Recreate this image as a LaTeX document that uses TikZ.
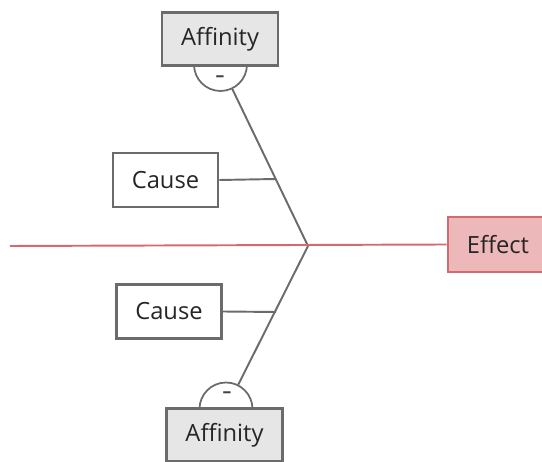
\documentclass[tikz,border=0pt]{standalone}
\usepackage{fontspec}
\setmainfont{Open Sans}
\definecolor{boxline}{HTML}{6B6B6B}
\definecolor{affill}{HTML}{E6E6E6}
\definecolor{efline}{HTML}{D46A70}
\definecolor{effill}{HTML}{EDB8BA}
\begin{document}
\begin{tikzpicture}[x=0.02cm,y=-0.02cm,
        box/.style={draw=boxline,line width=1.6pt,fill=white,inner sep=0pt,
            font=\fontsize{13.5}{15}\selectfont,text=black!85},
        affbox/.style={box,fill=affill,minimum width=2.32cm,minimum height=1.06cm},
        causebox/.style={box,minimum width=2.1cm,minimum height=1.08cm},
        effbox/.style={box,draw=efline,fill=effill,minimum width=2cm,minimum height=1.1cm},
        knob/.style={circle,draw=boxline,line width=1pt,fill=white,minimum size=1.06cm,inner sep=0pt},
        minus/.style={font=\fontsize{10}{10}\bfseries,text=black!75,inner sep=0pt},
        bone/.style={draw=boxline,line width=1.1pt}]
\useasboundingbox (0,0) rectangle (542,462);

\coordinate (spine) at (308,246);
\coordinate (tail) at (10,246);

\node[knob] (knobtop) at (220.5,64.5) {};
\node[knob] (knobbot) at (226,409) {};
\node[minus] (minustop) at (220,79) {–};
\node[minus] (minusbot) at (227,395) {–};

\node[affbox] (afftop) at (220,39) {Affinity};
\node[affbox] (affbot) at (224.5,435) {Affinity};

\node[causebox] (causetop) at (165.5,180) {Cause};
\node[causebox] (causebot) at (169,311.5) {Cause};
\node[effbox] (effect) at (498,244.5) {Effect};

\coordinate (jtop) at (276,179);
\coordinate (jbot) at (276,312);

\draw[bone] (spine) -- (knobtop);
\draw[bone] (spine) -- (knobbot);
\draw[bone] (causetop.east) -- (jtop);
\draw[bone] (causebot.east) -- (jbot);
\draw[efline,line width=1.1pt] (tail) -- (effect.west);
\end{tikzpicture}
\end{document}
